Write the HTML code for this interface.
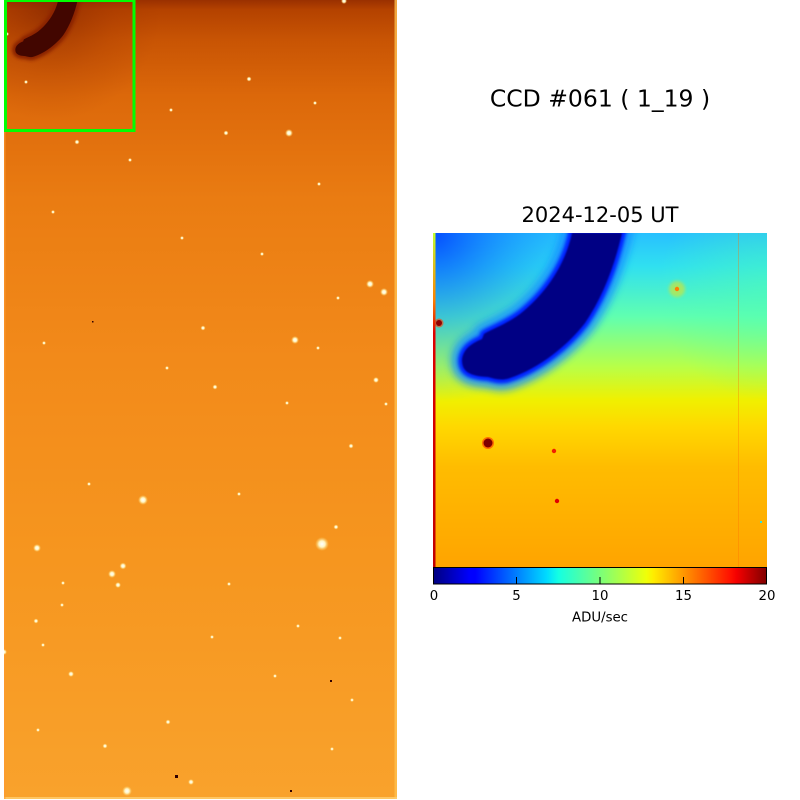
<!DOCTYPE html>
<html><head><meta charset="utf-8"><style>
html,body{margin:0;padding:0;background:#fff;}
svg{display:block;}
text{font-family:"DejaVu Sans","Liberation Sans",sans-serif;fill:#000;}
</style></head><body>
<svg width="800" height="800" viewBox="0 0 800 800" xmlns="http://www.w3.org/2000/svg">
<defs>
<linearGradient id="lg" x1="0" y1="0" x2="0" y2="1">
<stop offset="0" stop-color="#9a3000"/>
<stop offset="0.012" stop-color="#b44200"/>
<stop offset="0.05" stop-color="#c85404"/>
<stop offset="0.12" stop-color="#dc680a"/>
<stop offset="0.25" stop-color="#ea7c12"/>
<stop offset="0.45" stop-color="#f28a1a"/>
<stop offset="0.7" stop-color="#f6961f"/>
<stop offset="1" stop-color="#f9a22c"/>
</linearGradient>
<radialGradient id="dk" cx="50" cy="10" r="110" gradientUnits="userSpaceOnUse">
<stop offset="0" stop-color="#7a2000" stop-opacity="0.55"/>
<stop offset="0.6" stop-color="#9a3000" stop-opacity="0.2"/>
<stop offset="1" stop-color="#9a3000" stop-opacity="0"/>
</radialGradient>
<radialGradient id="star"><stop offset="0" stop-color="#ffffff"/><stop offset="0.45" stop-color="#fff4c0"/><stop offset="1" stop-color="#ffd060" stop-opacity="0"/></radialGradient>
<linearGradient id="rg" x1="0" y1="0" x2="0" y2="1">
<stop offset="0" stop-color="#28c0ff"/>
<stop offset="0.1" stop-color="#30e0f0"/>
<stop offset="0.25" stop-color="#60ffb0"/>
<stop offset="0.4" stop-color="#b8ff48"/>
<stop offset="0.5" stop-color="#f0f000"/>
<stop offset="0.58" stop-color="#ffd800"/>
<stop offset="0.7" stop-color="#ffbc00"/>
<stop offset="1" stop-color="#ffa400"/>
</linearGradient>
<radialGradient id="tl" cx="433" cy="233" r="170" gradientUnits="userSpaceOnUse">
<stop offset="0" stop-color="#0040ff" stop-opacity="0.9"/>
<stop offset="0.5" stop-color="#1080ff" stop-opacity="0.45"/>
<stop offset="1" stop-color="#20c0ff" stop-opacity="0"/>
</radialGradient>
<radialGradient id="tr" cx="767" cy="290" r="110" gradientUnits="userSpaceOnUse">
<stop offset="0" stop-color="#50ffb0" stop-opacity="0.5"/>
<stop offset="1" stop-color="#50ffb0" stop-opacity="0"/>
</radialGradient>
<linearGradient id="edge" x1="0" y1="0" x2="0" y2="1">
<stop offset="0" stop-color="#c0ff30"/>
<stop offset="0.2" stop-color="#ff8000"/>
<stop offset="0.3" stop-color="#e00000"/>
<stop offset="1" stop-color="#c00000"/>
</linearGradient>
<linearGradient id="jet" x1="0" y1="0" x2="1" y2="0">
<stop offset="0" stop-color="#000080"/>
<stop offset="0.11" stop-color="#0000ff"/>
<stop offset="0.125" stop-color="#0000ff"/>
<stop offset="0.34" stop-color="#00dbff"/>
<stop offset="0.375" stop-color="#14ffe3"/>
<stop offset="0.5" stop-color="#7aff7a"/>
<stop offset="0.64" stop-color="#f0ff08"/>
<stop offset="0.66" stop-color="#ffed00"/>
<stop offset="0.89" stop-color="#ff1200"/>
<stop offset="0.91" stop-color="#f50000"/>
<stop offset="1" stop-color="#800000"/>
</linearGradient>
<filter id="b4" x="-50%" y="-50%" width="200%" height="200%"><feGaussianBlur stdDeviation="4"/></filter>
<filter id="b2" x="-50%" y="-50%" width="200%" height="200%"><feGaussianBlur stdDeviation="1.6"/></filter>
<filter id="b1" x="-50%" y="-50%" width="200%" height="200%"><feGaussianBlur stdDeviation="0.8"/></filter>
<clipPath id="cr"><rect x="433" y="233" width="334" height="334"/></clipPath>
<clipPath id="cl"><rect x="4" y="0" width="393" height="799"/></clipPath>
</defs>

<!-- LEFT IMAGE -->
<g clip-path="url(#cl)">
<rect x="4" y="0" width="393" height="799" fill="url(#lg)"/>
<rect x="4" y="0" width="200" height="140" fill="url(#dk)"/>
<g transform="translate(4,0) scale(0.39) translate(-433,-233)">
<path d="M572,233 C566,262 548,292 520,314 C505,325 490,330 484,334 L482,339 C470,344 463,350 462,360 C462,372 470,376 488,377 C495,379 502,381 510,378 C540,368 568,345 585,323 C602,298 614,268 622,233 Z" fill="#7a1a00" stroke="#8a2400" stroke-width="16" filter="url(#b4)"/>
<path d="M572,233 C566,262 548,292 520,314 C505,325 490,330 484,334 L482,339 C470,344 463,350 462,360 C462,372 470,376 488,377 C495,379 502,381 510,378 C540,368 568,345 585,323 C602,298 614,268 622,233 Z" fill="#420600"/>
</g>
<rect x="394.5" y="0" width="2.5" height="799" fill="#ffc050" opacity="0.8"/>
<rect x="4" y="797" width="393" height="2" fill="#ffd070" opacity="0.8"/>
<rect x="4" y="0" width="1.5" height="799" fill="#ff9a30" opacity="0.6"/>
<g fill="url(#star)">
<circle cx="289" cy="133" r="4"/><circle cx="226" cy="133" r="2.5"/><circle cx="249" cy="79" r="2.5"/>
<circle cx="171" cy="110" r="2"/><circle cx="315" cy="103" r="2"/><circle cx="77" cy="142" r="2.5"/>
<circle cx="130" cy="160" r="2"/><circle cx="182" cy="238" r="2"/><circle cx="203" cy="328" r="2.5"/>
<circle cx="262" cy="254" r="2"/><circle cx="370" cy="284" r="4"/><circle cx="384" cy="292" r="4"/>
<circle cx="338" cy="298" r="2"/><circle cx="295" cy="340" r="4"/><circle cx="318" cy="348" r="2"/>
<circle cx="44" cy="343" r="2"/><circle cx="167" cy="368" r="2"/><circle cx="215" cy="387" r="2.5"/>
<circle cx="376" cy="380" r="3"/><circle cx="386" cy="404" r="2"/><circle cx="287" cy="403" r="2"/>
<circle cx="351" cy="446" r="2.5"/><circle cx="143" cy="500" r="5"/><circle cx="239" cy="494" r="2"/>
<circle cx="322" cy="544" r="7"/><circle cx="336" cy="527" r="2.5"/><circle cx="37" cy="548" r="4"/>
<circle cx="112" cy="574" r="4"/><circle cx="123" cy="566" r="3.5"/><circle cx="118" cy="585" r="3"/>
<circle cx="63" cy="583" r="2"/><circle cx="229" cy="584" r="2"/><circle cx="298" cy="626" r="2"/>
<circle cx="71" cy="674" r="3"/><circle cx="4" cy="652" r="3"/><circle cx="36" cy="621" r="2.5"/>
<circle cx="62" cy="605" r="2"/><circle cx="43" cy="645" r="2"/><circle cx="340" cy="638" r="2"/>
<circle cx="127" cy="791" r="5"/><circle cx="168" cy="722" r="2.5"/><circle cx="105" cy="746" r="2.5"/>
<circle cx="191" cy="782" r="3"/><circle cx="275" cy="676" r="2"/><circle cx="352" cy="700" r="2"/>
<circle cx="212" cy="637" r="2"/><circle cx="332" cy="749" r="2"/><circle cx="38" cy="730" r="2"/>
<circle cx="7" cy="34" r="2"/><circle cx="26" cy="82" r="2"/><circle cx="344" cy="1" r="3"/>
<circle cx="53" cy="212" r="2"/><circle cx="89" cy="484" r="2"/><circle cx="319" cy="184" r="2"/>
</g>
<g fill="#300000">
<rect x="175" y="775" width="3" height="3"/><rect x="330" y="680" width="2" height="2"/><rect x="92" y="321" width="1.5" height="1.5"/>
<rect x="290" y="790" width="2" height="2"/>
</g>
</g>
<rect x="5.5" y="0.5" width="128.5" height="130" fill="none" stroke="#00ff00" stroke-width="3"/>

<!-- TITLES -->
<text x="600" y="106.5" font-size="23.5" text-anchor="middle">CCD #061 ( 1_19 )</text>
<text x="600" y="222" font-size="21" text-anchor="middle">2024-12-05 UT</text>

<!-- RIGHT IMAGE -->
<g clip-path="url(#cr)">
<rect x="433" y="233" width="334" height="334" fill="url(#rg)"/>
<rect x="433" y="233" width="334" height="334" fill="url(#tl)"/>
<rect x="433" y="233" width="334" height="334" fill="url(#tr)"/>
<path d="M572,233 C566,262 548,292 520,314 C505,325 490,330 484,334 L482,339 C470,344 463,350 462,360 C462,372 470,376 488,377 C495,379 502,381 510,378 C540,368 568,345 585,323 C602,298 614,268 622,233 Z" fill="#1070ff" stroke="#1890ff" stroke-width="22" filter="url(#b4)" opacity="0.85"/>
<path d="M572,233 C566,262 548,292 520,314 C505,325 490,330 484,334 L482,339 C470,344 463,350 462,360 C462,372 470,376 488,377 C495,379 502,381 510,378 C540,368 568,345 585,323 C602,298 614,268 622,233 Z" fill="#0010ff" stroke="#0020ff" stroke-width="8" filter="url(#b2)"/>
<path d="M572,233 C566,262 548,292 520,314 C505,325 490,330 484,334 L482,339 C470,344 463,350 462,360 C462,372 470,376 488,377 C495,379 502,381 510,378 C540,368 568,345 585,323 C602,298 614,268 622,233 Z" fill="#000084" filter="url(#b1)"/>
<circle cx="677" cy="289" r="8" fill="#ffe000" opacity="0.5" filter="url(#b2)"/>
<circle cx="677" cy="289" r="2.2" fill="#ff8000"/>
<circle cx="439" cy="323" r="4.5" fill="#ff4000" opacity="0.6"/>
<circle cx="439" cy="323" r="3" fill="#900000"/>
<circle cx="488" cy="443" r="6" fill="#ff3000" opacity="0.6"/>
<circle cx="488" cy="443" r="4.5" fill="#800000"/>
<circle cx="554" cy="451" r="2.2" fill="#f02000"/>
<circle cx="557" cy="501" r="2.2" fill="#e00000"/>
<rect x="760" y="521" width="2" height="2" fill="#30e0e0"/>
<rect x="738" y="233" width="1" height="334" fill="#ff7000" opacity="0.35"/>
<rect x="433" y="233" width="2.5" height="334" fill="url(#edge)"/>
</g>

<!-- COLORBAR -->
<rect x="433.5" y="567.5" width="333" height="16.5" fill="url(#jet)" stroke="#000" stroke-width="1"/>
<g stroke="#000" stroke-width="1">
<line x1="516.5" y1="577" x2="516.5" y2="584"/>
<line x1="600" y1="577" x2="600" y2="584"/>
<line x1="683.5" y1="577" x2="683.5" y2="584"/>
</g>
<g font-size="13.3" text-anchor="middle">
<text x="434" y="600">0</text>
<text x="516.5" y="600">5</text>
<text x="600" y="600">10</text>
<text x="683.5" y="600">15</text>
<text x="767" y="600">20</text>
<text x="600" y="621.5">ADU/sec</text>
</g>
</svg>
</body></html>
